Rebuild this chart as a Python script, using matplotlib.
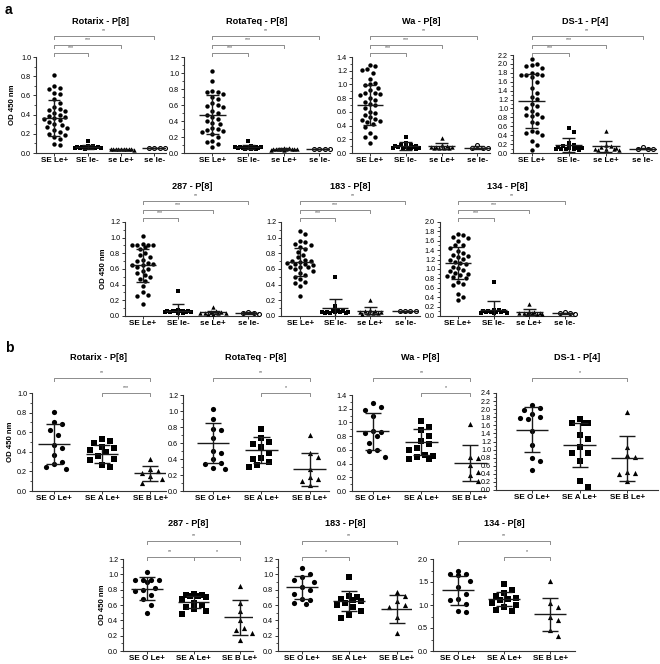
import numpy as np
import matplotlib.pyplot as plt
from matplotlib.transforms import blended_transform_factory
from matplotlib.ticker import MultipleLocator

plt.rcParams['font.family'] = ['Liberation Sans', 'DejaVu Sans']

W, H = 660, 664

groups_a = ["SE Le+", "SE le-", "se Le+", "se le-"]
groups_b = ["SE O Le+", "SE A Le+", "SE B Le+"]
titles = ["Rotarix - P[8]", "RotaTeq - P[8]", "Wa - P[8]", "DS-1 - P[4]",
          "287 - P[8]", "183 - P[8]", "134 - P[8]"]

# ---- panel a: OD 450 nm per secretor / Lewis group ----
rotarix_a = [
    [0.81, 0.70, 0.68, 0.67, 0.62, 0.61, 0.56, 0.52, 0.48, 0.46, 0.45, 0.44, 0.42, 0.40, 0.39, 0.38,
     0.36, 0.35, 0.34, 0.32, 0.30, 0.29, 0.27, 0.26, 0.24, 0.22, 0.20, 0.19, 0.17, 0.15, 0.09, 0.08],
    [0.13, 0.07, 0.07, 0.06, 0.06, 0.06, 0.06, 0.06, 0.05, 0.05, 0.05, 0.05, 0.05, 0.05, 0.05, 0.04],
    [0.045, 0.045, 0.04, 0.04, 0.04, 0.04, 0.04, 0.04, 0.04, 0.035],
    [0.05, 0.05, 0.05, 0.05]]
rotateq_a = [
    [1.02, 0.90, 0.78, 0.76, 0.76, 0.74, 0.70, 0.67, 0.62, 0.60, 0.59, 0.57, 0.52, 0.50, 0.48, 0.45,
     0.42, 0.40, 0.38, 0.36, 0.31, 0.30, 0.29, 0.28, 0.26, 0.24, 0.20, 0.15, 0.14, 0.11, 0.08],
    [0.15, 0.09, 0.08, 0.08, 0.07, 0.07, 0.07, 0.07, 0.06, 0.06, 0.06, 0.06, 0.05, 0.05, 0.05],
    [0.06, 0.06, 0.05, 0.05, 0.05, 0.05, 0.05, 0.05, 0.05, 0.05, 0.04, 0.04],
    [0.05, 0.05, 0.05, 0.05]]
wa_a = [
    [1.29, 1.27, 1.22, 1.21, 1.17, 1.08, 1.02, 1.00, 0.99, 0.95, 0.92, 0.88, 0.87, 0.86, 0.85, 0.80,
     0.78, 0.74, 0.72, 0.70, 0.66, 0.60, 0.58, 0.55, 0.52, 0.50, 0.48, 0.47, 0.45, 0.42, 0.38, 0.29,
     0.24, 0.23, 0.14],
    [0.24, 0.14, 0.12, 0.11, 0.10, 0.10, 0.09, 0.09, 0.09, 0.08, 0.08, 0.08, 0.07, 0.07, 0.06],
    [0.22, 0.12, 0.10, 0.09, 0.09, 0.09, 0.08, 0.08, 0.07, 0.07],
    [0.07, 0.07, 0.08, 0.11]]
ds1_a = [
    [2.10, 2.00, 1.97, 1.95, 1.90, 1.80, 1.78, 1.76, 1.75, 1.74, 1.70, 1.60, 1.45, 1.35, 1.25, 1.22,
     1.10, 1.05, 1.00, 0.95, 0.88, 0.85, 0.82, 0.80, 0.70, 0.68, 0.50, 0.47, 0.45, 0.40, 0.27, 0.17,
     0.07],
    [0.57, 0.47, 0.22, 0.18, 0.15, 0.14, 0.13, 0.12, 0.12, 0.11, 0.10, 0.10, 0.09, 0.08, 0.07],
    [0.49, 0.18, 0.15, 0.13, 0.12, 0.10, 0.09, 0.08, 0.07, 0.06],
    [0.09, 0.09, 0.10, 0.13]]
s287_a = [
    [1.02, 0.92, 0.91, 0.91, 0.90, 0.90, 0.88, 0.85, 0.80, 0.78, 0.75, 0.72, 0.70, 0.68, 0.66, 0.65,
     0.65, 0.63, 0.60, 0.58, 0.55, 0.52, 0.50, 0.47, 0.45, 0.38, 0.30, 0.27, 0.25, 0.15],
    [0.32, 0.08, 0.07, 0.07, 0.07, 0.06, 0.06, 0.06, 0.05, 0.05, 0.05, 0.05, 0.04, 0.04],
    [0.12, 0.06, 0.05, 0.05, 0.04, 0.04, 0.04, 0.04, 0.03, 0.03],
    [0.04, 0.03, 0.04, 0.05]]
s183_a = [
    [1.08, 1.05, 0.96, 0.95, 0.92, 0.90, 0.88, 0.85, 0.82, 0.78, 0.75, 0.72, 0.70, 0.70, 0.69, 0.68,
     0.67, 0.66, 0.65, 0.63, 0.62, 0.62, 0.60, 0.58, 0.55, 0.52, 0.50, 0.47, 0.43, 0.42, 0.38, 0.25],
    [0.50, 0.13, 0.07, 0.06, 0.06, 0.05, 0.05, 0.05, 0.05, 0.05, 0.04, 0.04, 0.04],
    [0.20, 0.08, 0.07, 0.06, 0.05, 0.05, 0.04, 0.04, 0.04, 0.03],
    [0.06, 0.06, 0.06, 0.06]]
s134_a = [
    [1.75, 1.72, 1.68, 1.65, 1.60, 1.52, 1.50, 1.45, 1.38, 1.35, 1.30, 1.28, 1.25, 1.22, 1.20, 1.15,
     1.12, 1.10, 1.05, 1.02, 0.98, 0.95, 0.92, 0.90, 0.88, 0.85, 0.82, 0.80, 0.72, 0.68, 0.65, 0.47,
     0.40, 0.34],
    [0.72, 0.13, 0.12, 0.11, 0.10, 0.10, 0.09, 0.09, 0.08, 0.08, 0.07, 0.07, 0.06],
    [0.25, 0.09, 0.08, 0.07, 0.07, 0.06, 0.06, 0.05, 0.05, 0.04],
    [0.06, 0.05, 0.06, 0.08]]

means_a = [[0.365, 0.06, 0.04, 0.05], [0.48, 0.07, 0.05, 0.05], [0.70, 0.10, 0.10, 0.08],
           [1.17, 0.18, 0.15, 0.10], [0.65, 0.07, 0.05, 0.04], [0.69, 0.10, 0.07, 0.06],
           [1.12, 0.13, 0.09, 0.06]]
sds_a = [[0.185, 0.02, 0.005, 0.003], [0.24, 0.025, 0.01, 0.003], [0.29, 0.06, 0.04, 0.02],
         [0.61, 0.16, 0.12, 0.02], [0.21, 0.08, 0.02, 0.01], [0.18, 0.12, 0.05, 0.005],
         [0.34, 0.19, 0.06, 0.01]]

# ---- panel b: ABO groups within SE Le+ ----
rotarix_b = [[0.81, 0.70, 0.68, 0.62, 0.57, 0.47, 0.44, 0.37, 0.30, 0.28, 0.24, 0.22],
             [0.53, 0.51, 0.49, 0.45, 0.44, 0.42, 0.40, 0.36, 0.33, 0.32, 0.27, 0.25],
             [0.33, 0.22, 0.20, 0.18, 0.15, 0.12, 0.08]]
rotateq_b = [[1.02, 0.90, 0.77, 0.76, 0.66, 0.50, 0.48, 0.40, 0.35, 0.34, 0.29, 0.27],
             [0.78, 0.66, 0.61, 0.59, 0.55, 0.47, 0.41, 0.40, 0.36, 0.32, 0.30],
             [0.70, 0.47, 0.43, 0.28, 0.18, 0.15, 0.12, 0.08]]
wa_b = [[1.28, 1.22, 1.18, 1.10, 0.88, 0.86, 0.84, 0.80, 0.70, 0.60, 0.58, 0.50],
        [1.02, 0.94, 0.89, 0.80, 0.73, 0.68, 0.62, 0.60, 0.52, 0.51, 0.50, 0.47, 0.46],
        [0.97, 0.50, 0.48, 0.38, 0.28, 0.24, 0.14]]
ds1_b = [[2.10, 2.02, 1.97, 1.88, 1.81, 1.78, 1.75, 1.45, 1.12, 0.80, 0.71, 0.50],
         [1.75, 1.67, 1.65, 1.66, 1.35, 1.25, 1.06, 0.92, 0.91, 0.71, 0.22, 0.08],
         [1.92, 1.07, 0.86, 0.82, 0.45, 0.42, 0.40, 0.22]]
s287_b = [[1.03, 0.93, 0.92, 0.92, 0.92, 0.90, 0.82, 0.80, 0.78, 0.73, 0.68, 0.60, 0.49],
          [0.75, 0.73, 0.73, 0.72, 0.72, 0.70, 0.68, 0.63, 0.60, 0.58, 0.55, 0.52, 0.48],
          [0.85, 0.63, 0.52, 0.40, 0.30, 0.28, 0.23, 0.15]]
s183_b = [[1.08, 1.00, 0.97, 0.92, 0.90, 0.84, 0.80, 0.75, 0.68, 0.67, 0.62, 0.61],
          [0.96, 0.72, 0.70, 0.68, 0.67, 0.65, 0.62, 0.60, 0.58, 0.52, 0.47, 0.43],
          [0.77, 0.72, 0.65, 0.60, 0.58, 0.45, 0.24]]
s134_b = [[1.75, 1.68, 1.66, 1.67, 1.52, 1.40, 1.25, 1.13, 1.10, 1.03, 0.87, 0.85],
          [1.45, 1.32, 1.27, 1.20, 1.15, 1.12, 1.10, 1.05, 1.00, 0.95, 0.90, 0.88],
          [1.52, 1.05, 0.95, 0.75, 0.68, 0.45, 0.33]]

means_b = [[0.48, 0.38, 0.18], [0.60, 0.51, 0.27], [0.87, 0.71, 0.41], [1.49, 1.11, 0.78],
           [0.81, 0.64, 0.44], [0.83, 0.65, 0.55], [1.32, 1.13, 0.80]]
sds_b = [[0.20, 0.09, 0.08], [0.25, 0.16, 0.21], [0.27, 0.19, 0.26], [0.56, 0.55, 0.55],
         [0.15, 0.08, 0.23], [0.15, 0.13, 0.18], [0.32, 0.16, 0.36]]

ymax_a = [1.0, 1.2, 1.4, 2.2, 1.2, 1.2, 2.0]
ystep_a = [0.2, 0.2, 0.2, 0.2, 0.2, 0.2, 0.2]
ymax_b = [1.0, 1.2, 1.4, 2.4, 1.2, 1.2, 2.0]
ystep_b = [0.2, 0.2, 0.2, 0.2, 0.2, 0.2, 0.5]

# significance: (group i, group j, stars, level)
sig_a = [[(0, 1, '***', 0), (0, 2, '***', 1), (0, 3, '**', 2)]] * 7
sig_b = [[(0, 2, '**', 1), (1, 2, '***', 0)],
         [(0, 2, '**', 1), (1, 2, '*', 0)],
         [(0, 2, '**', 1), (1, 2, '*', 0)],
         [(0, 2, '*', 1)],
         [(0, 2, '**', 1), (0, 1, '**', 0), (1, 2, '*', 0)],
         [(0, 2, '**', 1), (0, 1, '*', 0)],
         [(0, 2, '**', 1), (1, 2, '*', 0)]]

# layout in pixels: left, top, right, bottom
boxes_a = [(36, 57, 166, 153), (184, 57, 330, 153), (352, 57, 490, 153), (513, 55, 657, 153),
           (125, 222, 259, 316), (281, 222, 420, 316), (440, 222, 575, 316)]
xlims_a = [(-0.55, 3.35), (-0.8, 3.3), (-0.5, 3.35), (-0.5, 3.38),
           (-0.5, 3.3), (-0.55, 3.42), (-0.5, 3.28)]
boxes_b = [(32, 393, 166, 491), (183, 395, 329, 491), (352, 395, 488, 491), (496, 393, 658, 490),
           (123, 559, 253, 651), (278, 559, 412, 651), (433, 559, 575, 651)]
xlims_b = [(-0.46, 2.33), (-0.62, 2.4), (-0.43, 2.37), (-0.76, 2.65),
           (-0.52, 2.28), (-0.5, 2.32), (-0.54, 2.54)]

fig = plt.figure(figsize=(W / 100, H / 100), dpi=100)


def swarm(vals, px_x, px_y, size, maxw):
    # simple beeswarm: horizontal offsets (data units) so markers don't overlap
    vals = np.asarray(vals, dtype=float)
    order = np.argsort(-vals, kind='stable')
    step = size * 0.5
    cands = [0.0]
    for k in range(1, int(maxw / step) + 1):
        cands += [k * step, -k * step]
    placed = []
    offs = np.zeros(len(vals))
    for i in order:
        y = vals[i] * px_y
        best, best_d = 0.0, -1.0
        for c in cands:
            d = min([((c - px) / size) ** 2 + ((y - py) / size) ** 2 for px, py in placed], default=9.0)
            if d >= 1:
                best = c
                break
            if d > best_d:
                best, best_d = c, d
        placed.append((best, y))
        offs[i] = best / px_x
    return offs


def draw(box, xlim, values, means, sds, labels, markers, ymax, ystep, title, title_y,
         sigs, bracket_px, size, maxw, ms, mean_hw, cap_hw):
    l, t, r, b = box
    ax = fig.add_axes([l / W, 1 - b / H, (r - l) / W, (b - t) / H])
    px_x = (r - l) / (xlim[1] - xlim[0])
    px_y = (b - t) / ymax
    for i, vals in enumerate(values):
        x = i + swarm(vals, px_x, px_y, size, maxw)
        if markers[i] == 'open':
            ax.scatter(x, vals, s=ms * 0.8, marker='o', facecolor='white', edgecolor='black',
                       linewidth=0.8, zorder=3, clip_on=False)
        else:
            ax.scatter(x, vals, s=ms, marker=markers[i], color='black', linewidth=0,
                       zorder=3, clip_on=False)
        m, s = means[i], sds[i]
        ax.hlines(m, i - mean_hw, i + mean_hw, color='#1a1a1a', lw=1.0, zorder=4)
        ax.vlines(i, m - s, m + s, color='#1a1a1a', lw=1.0, zorder=4)
        ax.hlines([m - s, m + s], i - cap_hw, i + cap_hw, color='#1a1a1a', lw=1.0, zorder=4)
    ax.set_xlim(xlim)
    ax.set_ylim(0, ymax)
    ax.set_xticks(range(len(labels)))
    ax.set_xticklabels(labels, fontsize=5.9, fontweight='bold')
    ax.set_yticks(np.arange(0, ymax + 1e-9, ystep))
    ax.yaxis.set_major_formatter('{x:.1f}')
    ax.yaxis.set_minor_locator(MultipleLocator(ystep / 2))
    for side in ['top', 'right']:
        ax.spines[side].set_visible(False)
    for side in ['left', 'bottom']:
        ax.spines[side].set_color('#333333')
        ax.spines[side].set_linewidth(0.8)
    ax.tick_params(axis='y', which='major', length=2.5, width=0.7, labelsize=5.2, pad=1.0, colors='#333333')
    ax.tick_params(axis='y', which='minor', length=1.5, width=0.6, colors='#333333')
    ax.tick_params(axis='x', length=2, width=0.7, pad=1.2, colors='#333333')
    for lab in ax.get_xticklabels() + ax.get_yticklabels():
        lab.set_color('black')
    ax.patch.set_visible(False)

    fig.text((l + r) / 2 / W, 1 - title_y / H, title, ha='center', va='center',
             fontsize=6.6, fontweight='bold')

    tr = blended_transform_factory(ax.transData, fig.transFigure)
    for i, j, stars, lev in sigs:
        yb = 1 - bracket_px[lev] / H
        dy = 3 / H
        ax.plot([i, i, j, j], [yb - dy, yb, yb, yb - dy], color='#8c8c8c', lw=0.7,
                transform=tr, clip_on=False)
        ax.text((i + j) / 2, yb + 2.5 / H, stars, transform=tr, ha='center', va='bottom',
                fontsize=3.8, color='#444444')
    return ax


markers_a = ['o', 's', '^', 'open']
markers_b = ['o', 's', '^']
data_a = [rotarix_a, rotateq_a, wa_a, ds1_a, s287_a, s183_a, s134_a]
data_b = [rotarix_b, rotateq_b, wa_b, ds1_b, s287_b, s183_b, s134_b]

for k in range(7):
    bpx = [53, 45, 36] if k < 4 else [218, 210, 201]
    ty = 21 if k < 4 else 187
    draw(boxes_a[k], xlims_a[k], data_a[k], means_a[k], sds_a[k], groups_a, markers_a,
         ymax_a[k], ystep_a[k], titles[k], ty, sig_a[k], bpx,
         size=5.2, maxw=14, ms=10, mean_hw=0.37, cap_hw=0.18)

for k in range(7):
    bpx = [393, 378] if k < 4 else [557, 541]
    ty = 358 if k < 4 else 523
    draw(boxes_b[k], xlims_b[k], data_b[k], means_b[k], sds_b[k], groups_b, markers_b,
         ymax_b[k], ystep_b[k], titles[k], ty, sig_b[k], bpx,
         size=8, maxw=15, ms=14, mean_hw=0.34, cap_hw=0.17)

# y labels on first column of each row
for x_px, box in [(13, boxes_a[0]), (104, boxes_a[4]), (11, boxes_b[0]), (102, boxes_b[4])]:
    fig.text(x_px / W, 1 - (box[1] + box[3]) / 2 / H, 'OD 450 nm', rotation=90,
             ha='center', va='center', fontsize=5.6, fontweight='bold')

fig.text(5 / W, 1 - 10 / H, 'a', fontsize=10, fontweight='bold', ha='left', va='center')
fig.text(5 / W, 1 - 348 / H, 'b', fontsize=10, fontweight='bold', ha='left', va='center')

fig.savefig('out.png', dpi=100, facecolor='white')
